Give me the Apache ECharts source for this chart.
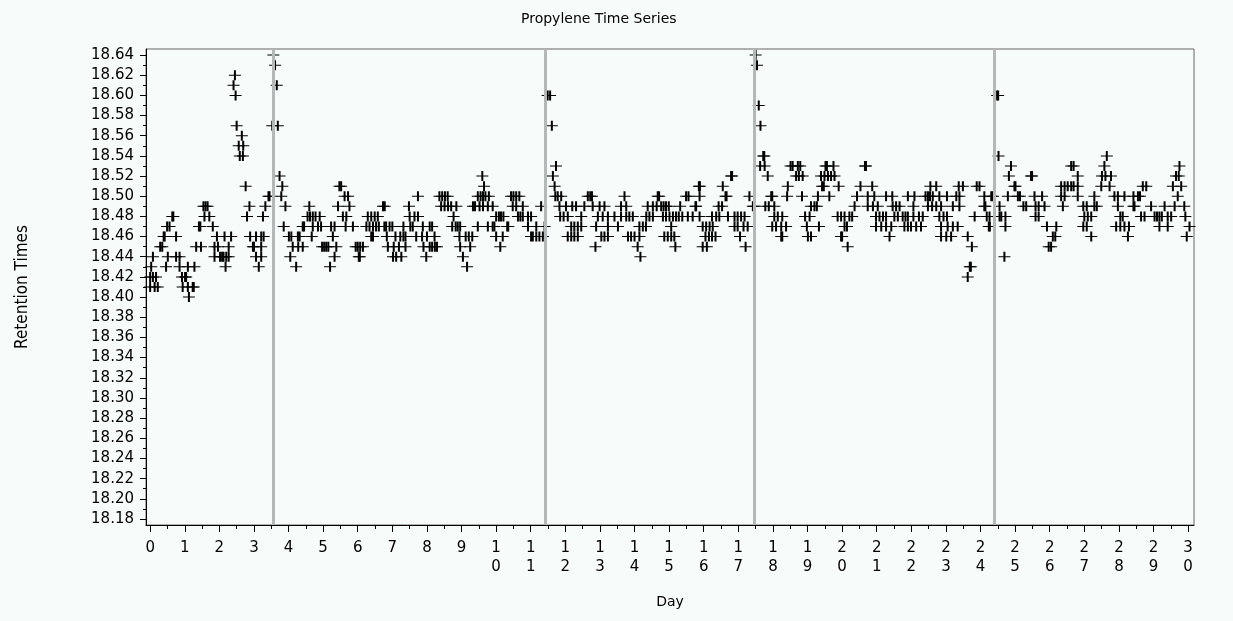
<!DOCTYPE html>
<html>
<head>
<meta charset="utf-8">
<title>Propylene Time Series</title>
<script src="https://cdn.jsdelivr.net/npm/echarts@6/dist/echarts.min.js"></script>
<style>
  html, body { margin: 0; padding: 0; background: #f7fbfa; }
  #chart { width: 1233px; height: 621px; }
</style>
</head>
<body>
<div id="chart"></div>
<script>
// Retention time readings (minutes), grouped by recorded value; each array lists the days of the readings.
const days1864 = [3.56, 17.50];
const days1863 = [3.61, 17.54];
const days1862 = [2.45];
const days1861 = [2.41, 3.66];
const days1860 = [2.47, 11.49, 11.56, 24.48, 24.51];
const days1859 = [17.59];
const days1857 = [2.50, 3.53, 3.69, 11.61, 17.64];
const days1856 = [2.65];
const days1855 = [2.56, 2.69];
const days1854 = [2.59, 2.68, 17.72, 17.75, 24.52, 27.65];
const days1853 = [11.73, 17.63, 17.76, 18.51, 18.57, 18.72, 18.79, 19.52, 19.56, 19.75, 20.66, 20.69,
  24.88, 26.62, 26.69, 27.58, 29.75];
const days1852 = [3.74, 9.60, 11.64, 16.79, 16.82, 17.85, 18.67, 18.75, 18.86, 19.39, 19.49, 19.59, 19.68,
  19.78, 24.82, 25.46, 25.49, 26.81, 27.51, 27.61, 27.77, 29.65, 29.73];
const days1851 = [2.76, 3.82, 5.47, 5.52, 9.65, 11.69, 15.86, 15.89, 16.55, 18.43, 19.42, 19.47, 19.90,
  20.53, 20.87, 22.55, 22.72, 23.37, 23.49, 23.89, 23.97, 24.98, 25.01, 26.33, 26.43, 26.52, 26.62,
  26.69, 26.81, 27.49, 27.73, 28.69, 28.79, 29.56, 29.80];
const days1850 = [3.42, 3.45, 3.79, 5.62, 5.72, 7.74, 8.36, 8.44, 8.52, 8.60, 9.47, 9.55, 9.62, 9.69,
  9.79, 10.43, 10.50, 10.58, 10.67, 11.71, 11.78, 11.88, 12.65, 12.72, 12.77, 13.71, 14.67, 14.71,
  15.49, 15.56, 15.88, 16.63, 16.66, 17.32, 17.95, 17.98, 18.41, 18.84, 19.30, 19.63, 20.43, 20.74,
  20.93, 21.27, 21.45, 21.90, 22.09, 22.41, 22.48, 22.54, 22.62, 22.81, 23.03, 23.30, 23.39, 24.11,
  24.31, 24.36, 24.79, 25.08, 25.14, 25.56, 25.78, 26.33, 26.43, 26.81, 27.29, 27.87, 27.97, 28.16,
  28.42, 28.55, 28.61, 29.70];
const days1849 = [1.54, 1.60, 1.66, 2.87, 3.33, 3.91, 4.60, 5.43, 5.76, 6.73, 6.78, 7.48, 8.41, 8.51,
  8.61, 8.70, 8.85, 9.33, 9.39, 9.52, 9.62, 9.76, 9.90, 10.48, 10.58, 10.77, 11.30, 11.83, 12.02,
  12.20, 12.31, 12.55, 12.79, 12.99, 13.13, 13.61, 13.76, 14.38, 14.53, 14.64, 14.77, 14.84, 14.91,
  14.99, 15.32, 15.76, 15.78, 16.43, 16.53, 17.42, 17.45, 17.78, 17.88, 18.04, 19.10, 19.20, 19.27,
  20.36, 20.74, 20.89, 21.03, 21.46, 21.56, 21.66, 22.06, 22.48, 22.60, 22.72, 22.86, 23.20, 23.39,
  24.11, 24.14, 24.55, 25.24, 25.32, 25.59, 25.68, 25.85, 26.38, 26.97, 27.07, 27.29, 27.36, 27.97,
  28.42, 28.45, 28.93, 29.32, 29.61, 29.89];
const days1848 = [0.64, 0.67, 1.57, 1.71, 2.80, 3.26, 4.55, 4.62, 4.70, 4.78, 4.90, 5.57, 5.67, 6.29,
  6.39, 6.49, 6.58, 7.50, 7.64, 7.74, 8.77, 10.00, 10.08, 10.14, 10.21, 10.63, 10.70, 10.77, 10.92,
  11.01, 11.85, 11.95, 12.07, 12.46, 12.94, 13.08, 13.23, 13.42, 13.61, 13.76, 13.85, 13.95, 14.34,
  14.43, 14.53, 14.82, 14.91, 15.01, 15.11, 15.20, 15.28, 15.38, 15.54, 15.68, 15.88, 16.24, 16.36,
  16.45, 16.70, 16.89, 16.98, 17.08, 17.18, 18.04, 18.14, 18.27, 18.93, 19.06, 19.87, 19.97, 20.07,
  20.21, 20.29, 20.98, 21.08, 21.18, 21.27, 21.51, 21.61, 21.75, 21.83, 21.90, 22.06, 22.22, 22.33,
  22.81, 22.93, 23.03, 23.83, 24.18, 24.26, 24.55, 24.60, 24.72, 25.59, 25.68, 27.00, 27.10, 27.20,
  28.04, 28.11, 28.64, 28.74, 29.03, 29.10, 29.17, 29.24, 29.41, 29.51, 29.92];
const days1847 = [0.49, 0.56, 1.41, 1.45, 1.81, 3.86, 4.41, 4.45, 4.70, 4.85, 4.94, 5.23, 5.33, 5.65,
  5.86, 6.25, 6.34, 6.44, 6.53, 6.61, 6.77, 6.82, 6.92, 7.00, 7.32, 7.52, 7.59, 7.88, 8.08, 8.15,
  8.73, 8.83, 8.89, 8.96, 9.47, 9.76, 9.90, 9.95, 10.32, 10.35, 10.92, 11.16, 11.40, 12.17, 12.26,
  12.36, 12.46, 12.89, 13.23, 13.52, 14.14, 14.24, 14.33, 15.06, 15.97, 16.07, 16.17, 16.26, 16.89,
  16.98, 17.15, 17.27, 17.98, 18.09, 18.24, 18.38, 18.98, 19.33, 20.07, 20.14, 20.98, 21.13, 21.27,
  21.42, 21.80, 21.90, 21.99, 22.14, 22.28, 22.86, 23.05, 23.20, 23.34, 24.24, 24.27, 24.72, 25.92,
  26.19, 26.97, 27.07, 27.92, 28.04, 28.16, 28.29, 29.17, 29.41, 30.04];
const days1846 = [0.39, 0.42, 0.75, 1.93, 2.15, 2.34, 2.89, 3.06, 3.21, 3.28, 4.01, 4.08, 4.27, 4.32,
  4.67, 5.28, 6.39, 6.44, 6.84, 7.09, 7.23, 7.32, 7.38, 7.69, 7.86, 8.00, 8.22, 8.94, 9.12, 9.21,
  9.31, 10.00, 10.19, 11.01, 11.06, 11.16, 11.25, 11.35, 12.07, 12.17, 12.26, 12.36, 13.04, 13.13,
  13.23, 13.81, 13.90, 14.00, 14.14, 14.86, 14.96, 15.06, 15.15, 16.05, 16.15, 16.24, 16.34, 17.05,
  18.24, 18.27, 19.01, 19.10, 19.97, 20.00, 21.37, 22.86, 23.01, 23.15, 23.63, 26.09, 26.16, 27.20,
  28.26, 29.96];
const days1845 = [0.29, 0.35, 1.33, 1.47, 1.86, 1.96, 2.27, 2.97, 3.00, 3.21, 4.12, 4.28, 4.41, 4.97,
  5.03, 5.09, 5.15, 5.38, 5.94, 6.00, 6.07, 6.15, 6.87, 7.04, 7.19, 7.38, 7.90, 8.08, 8.15, 8.23,
  8.29, 8.96, 9.25, 10.12, 12.87, 14.09, 15.18, 15.97, 16.09, 17.21, 20.16, 23.75, 25.97, 26.04];
const days1844 = [0.08, 0.51, 0.75, 0.85, 1.86, 2.02, 2.08, 2.12, 2.20, 2.27, 3.06, 3.21, 4.05, 5.33,
  6.03, 6.06, 7.02, 7.11, 7.26, 7.98, 9.04, 14.17, 24.69];
const days1843 = [0.03, 0.46, 0.85, 1.09, 1.28, 2.18, 3.14, 4.22, 5.20, 9.16, 23.69, 23.72];
const days1842 = [0.00, 0.08, 0.17, 0.92, 1.01, 1.04, 23.63];
const days1841 = [0.00, 0.13, 0.22, 0.94, 1.09, 1.23, 1.26];
const days1840 = [1.12];

// Days on which reference lines are drawn
const eventDays = [3.55, 11.42, 17.45, 24.40];

// Axis tick labels
const dayTicks = [0, 1, 2, 3, 4, 5, 6, 7, 8, 9, 10, 11, 12, 13, 14, 15, 16, 17, 18, 19, 20,
  21, 22, 23, 24, 25, 26, 27, 28, 29, 30];
const dayMinorTicks = [0.5, 1.5, 2.5, 3.5, 4.5, 5.5, 6.5, 7.5, 8.5, 9.5, 10.5, 11.5, 12.5, 13.5, 14.5,
  15.5, 16.5, 17.5, 18.5, 19.5, 20.5, 21.5, 22.5, 23.5, 24.5, 25.5, 26.5, 27.5, 28.5, 29.5];
const retentionTicks = [18.18, 18.20, 18.22, 18.24, 18.26, 18.28, 18.30, 18.32, 18.34, 18.36, 18.38,
  18.40, 18.42, 18.44, 18.46, 18.48, 18.50, 18.52, 18.54, 18.56, 18.58, 18.60, 18.62, 18.64];
const retentionMinorTicks = [18.19, 18.21, 18.23, 18.25, 18.27, 18.29, 18.31, 18.33, 18.35, 18.37,
  18.39, 18.41, 18.43, 18.45, 18.47, 18.49, 18.51, 18.53, 18.55, 18.57, 18.59, 18.61, 18.63];

const readingGroups = [
  [18.64, days1864], [18.63, days1863], [18.62, days1862], [18.61, days1861], [18.60, days1860],
  [18.59, days1859], [18.57, days1857], [18.56, days1856], [18.55, days1855], [18.54, days1854],
  [18.53, days1853], [18.52, days1852], [18.51, days1851], [18.50, days1850], [18.49, days1849],
  [18.48, days1848], [18.47, days1847], [18.46, days1846], [18.45, days1845], [18.44, days1844],
  [18.43, days1843], [18.42, days1842], [18.41, days1841], [18.40, days1840]
];
const points = [];
readingGroups.forEach(([value, days]) => days.forEach(d => points.push([d, value])));

const X_MIN = -0.12, X_MAX = 30.17;
const Y_MIN = 18.174, Y_MAX = 18.646;
const labelFont = 'DejaVu Sans';
// plus-sign marker: thin horizontal bar, heavier vertical bar
const plusSymbol = 'path://M0 4.5H12V5.5H0Z M5 0H7V10H5Z';

const chart = echarts.init(document.getElementById('chart'), null, { renderer: 'canvas' });
chart.setOption({
  backgroundColor: '#f7fbfa',
  animation: false,
  title: {
    text: 'Propylene Time Series',
    left: 516,
    top: 7,
    textStyle: { fontFamily: labelFont, fontSize: 14, fontWeight: 'normal', color: '#000' }
  },
  grid: {
    left: 146, right: 39, top: 49, bottom: 96,
    show: true, borderColor: '#666', borderWidth: 1,
    containLabel: false, outerBoundsMode: 'none'
  },
  xAxis: [{
    type: 'value', min: X_MIN, max: X_MAX, position: 'bottom',
    name: 'Day', nameLocation: 'middle', nameGap: 70,
    nameTextStyle: { fontFamily: labelFont, fontSize: 14, color: '#000' },
    axisLine: { show: true, onZero: false, lineStyle: { color: '#000', width: 1 } },
    axisTick: { show: true, length: 7, customValues: dayTicks, lineStyle: { color: '#000' } },
    axisLabel: {
      customValues: dayTicks, margin: 14, fontFamily: labelFont, fontSize: 15, color: '#000',
      lineHeight: 19,
      formatter: v => (v < 10 ? String(v) : String(v).split('').join('\n'))
    },
    splitLine: { show: false }
  }, {
    type: 'value', min: X_MIN, max: X_MAX, position: 'bottom',
    axisLine: { show: false, onZero: false },
    axisTick: { show: true, length: 4, customValues: dayMinorTicks, lineStyle: { color: '#000' } },
    axisLabel: { show: false },
    splitLine: { show: false }
  }],
  yAxis: [{
    type: 'value', min: Y_MIN, max: Y_MAX, position: 'left',
    name: 'Retention Times', nameLocation: 'middle', nameGap: 115, nameRotate: 90,
    nameTextStyle: { fontFamily: "'Liberation Sans Narrow', 'DejaVu Sans Condensed', sans-serif", fontSize: 17, color: '#000' },
    axisLine: { show: true, onZero: false, lineStyle: { color: '#000', width: 1 } },
    axisTick: { show: true, length: 6, customValues: retentionTicks, lineStyle: { color: '#000' } },
    axisLabel: {
      customValues: retentionTicks, margin: 12, fontFamily: labelFont, fontSize: 15, color: '#000',
      formatter: v => v.toFixed(2)
    },
    splitLine: { show: false }
  }, {
    type: 'value', min: Y_MIN, max: Y_MAX, position: 'left',
    axisLine: { show: false, onZero: false },
    axisTick: { show: true, length: 3, customValues: retentionMinorTicks, lineStyle: { color: '#000' } },
    axisLabel: { show: false },
    splitLine: { show: false }
  }],
  series: [{
    type: 'scatter',
    name: 'events',
    data: [],
    z: 1,
    silent: true,
    markLine: {
      silent: true,
      symbol: ['none', 'none'],
      label: { show: false },
      lineStyle: { color: '#b5b8b8', width: 3, type: 'solid' },
      emphasis: { disabled: true },
      animation: false,
      data: eventDays.map(d => ({ xAxis: d }))
    }
  }, {
    type: 'scatter',
    name: 'Retention Times',
    data: points,
    z: 2,
    symbol: plusSymbol,
    symbolSize: [12, 10],
    itemStyle: { color: '#000', opacity: 1 },
    emphasis: { disabled: true }
  }]
});
</script>
</body>
</html>
